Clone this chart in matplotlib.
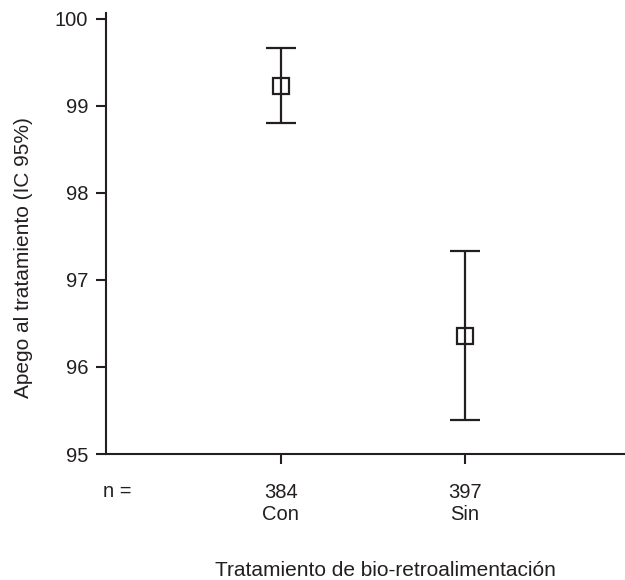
import matplotlib
matplotlib.use("Agg")
import matplotlib.pyplot as plt

# Data
categories = ["Con", "Sin"]
n_values = [384, 397]
means = [99.23, 96.36]
lower = [98.81, 95.39]
upper = [99.67, 97.33]

plt.rcParams['font.family'] = ['Liberation Sans', 'DejaVu Sans']
col = "#231f20"

fig = plt.figure(figsize=(6.25, 5.8), dpi=100)
ax = fig.add_axes([106/625, 1-454/580, 1-106/625, (454-12.7)/580])

xpos = [1, 2]
yerr = [[m - l for m, l in zip(means, lower)], [u - m for m, u in zip(means, upper)]]
ax.errorbar(xpos, means, yerr=yerr, fmt='s', ms=12, mfc='none', mec=col, mew=1.6,
            ecolor=col, elinewidth=1.6, capsize=10.5, capthick=1.6, color=col)

ax.set_xlim(0.0495, 2.873)
ax.set_ylim(95, 100.072)
ax.set_yticks([95, 96, 97, 98, 99, 100])
ax.set_xticks(xpos)
ax.set_xticklabels([f"{n}\n{c}" for n, c in zip(n_values, categories)], linespacing=1.25)

for s in ['top', 'right']:
    ax.spines[s].set_visible(False)
for s in ['left', 'bottom']:
    ax.spines[s].set_linewidth(1.5)
    ax.spines[s].set_color(col)

ax.tick_params(axis='y', length=7.2, width=1.5, pad=5.5, labelsize=14.5, colors=col)
ax.tick_params(axis='x', length=7.2, width=1.5, pad=13.5, labelsize=14.5, colors=col)

fig.text(103/625, 1-491.5/580, "n =", ha='left', va='center', fontsize=14.5, color=col)
fig.text(385/625, 1-576/580, "Tratamiento de bio-retroalimentación", ha='center',
         va='baseline', fontsize=15, color=col)
fig.text(24/625, 1-257.5/580, "Apego al tratamiento (IC 95%)", ha='center', va='center',
         rotation=90, fontsize=15, color=col)

fig.savefig("out.png", dpi=100)
